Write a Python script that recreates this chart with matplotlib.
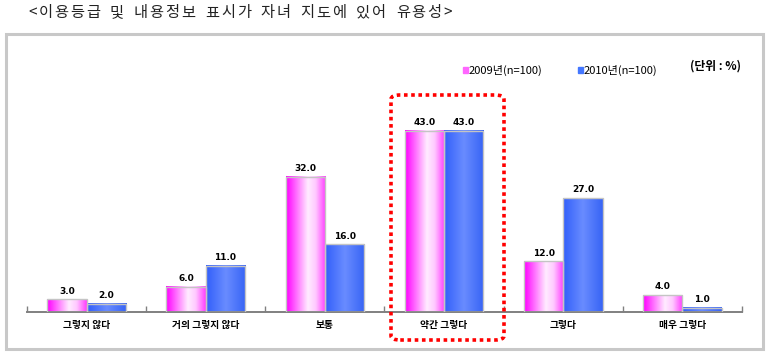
import numpy as np
import matplotlib
matplotlib.use("Agg")
import matplotlib.pyplot as plt
from matplotlib.patches import FancyBboxPatch, Rectangle

plt.rcParams['font.family'] = ['Noto Sans CJK KR', 'DejaVu Sans']

# data
categories = ["그렇지 않다", "거의 그렇지 않다", "보통", "약간 그렇다", "그렇다", "매우 그렇다"]
values_2009 = [3.0, 6.0, 32.0, 43.0, 12.0, 4.0]
values_2010 = [2.0, 11.0, 16.0, 43.0, 27.0, 1.0]
series_labels = ["2009년(n=100)", "2010년(n=100)"]
title = "<이용등급 및 내용정보 표시가 자녀 지도에 있어 유용성>"
unit_label = "(단위 : %)"

W, H = 772, 354
fig = plt.figure(figsize=(W / 100, H / 100), dpi=100)


def fx(px):
    return px / W


def fy(py):
    return 1 - py / H


# outer light gray frame
fig.patches.append(Rectangle((fx(6), fy(349)), fx(763) - fx(6), fy(34) - fy(349),
                             transform=fig.transFigure, fill=False,
                             edgecolor="#c8c8c8", linewidth=2.2, zorder=0))

ax = fig.add_axes([fx(27), fy(312), fx(742) - fx(27), fy(101) - fy(312)])
ax.set_xlim(-0.5, len(categories) - 0.5)
ax.set_ylim(0, 50)
for s in ["top", "right", "left"]:
    ax.spines[s].set_visible(False)
ax.spines["bottom"].set_color("#808080")
ax.spines["bottom"].set_linewidth(1.4)
ax.set_yticks([])
ax.set_xticks(np.arange(len(categories) + 1) - 0.5)
ax.set_xticklabels([])
ax.tick_params(axis="x", direction="in", length=4, color="#808080", width=1)


def gradient(stops):
    xs = np.linspace(0, 1, 64)
    pos = [p for p, _ in stops]
    cols = np.array([c for _, c in stops], dtype=float) / 255
    img = np.stack([np.interp(xs, pos, cols[:, k]) for k in range(3)], axis=-1)
    return img[np.newaxis, :, :]


pink = gradient([(0, (255, 0, 255)), (0.55, (255, 235, 255)), (0.75, (255, 200, 255)), (1, (255, 60, 255))])
blue = gradient([(0, (50, 95, 250)), (0.5, (105, 140, 255)), (1, (55, 100, 245))])

x = np.arange(len(categories))
w = 0.33
bars1 = ax.bar(x - w / 2, values_2009, w, color="none", edgecolor="#c4c4c4", linewidth=1, zorder=3)
bars2 = ax.bar(x + w / 2, values_2010, w, color="none", edgecolor="#c4c4c4", linewidth=1, zorder=3)

for bars, img in [(bars1, pink), (bars2, blue)]:
    for b in bars:
        x0, bw, h = b.get_x(), b.get_width(), b.get_height()
        ax.imshow(img, extent=(x0, x0 + bw, 0, h), aspect="auto", zorder=2, interpolation="bilinear")
        ax.text(x0 + bw / 2, h + 0.9, f"{h:.1f}", ha="center", va="bottom",
                fontsize=6.5, fontweight="bold", family="DejaVu Sans")
ax.set_xlim(-0.5, len(categories) - 0.5)
ax.set_ylim(0, 50)

for i, c in enumerate(categories):
    ax.text(i, -3.1, c, ha="center", va="center", fontsize=7, fontweight="bold")

# legend
for lx, lab, col in [(463, series_labels[0], "#ff66ff"), (578, series_labels[1], "#4477ff")]:
    fig.patches.append(Rectangle((fx(lx), fy(73)), fx(5), fy(0) - fy(6),
                                 transform=fig.transFigure, color=col))
    fig.text(fx(lx + 6), fy(70), lab, fontsize=8, va="center", ha="left")
fig.text(fx(690), fy(66), unit_label, fontsize=8.5, va="center", ha="left", fontweight="bold")

# title, drawn char by char so it spreads over the same width as the original
renderer = fig.canvas.get_renderer()
pieces = []
for ch in title:
    t = fig.text(0, fy(13), ch, fontsize=11, va="center", ha="left", color="#222222")
    pieces.append((t, 6 if ch == " " else t.get_window_extent(renderer).width))
gap = (452 - 28 - sum(wd for _, wd in pieces)) / (len(pieces) - 1)
cx = 28
for t, wd in pieces:
    t.set_x(fx(cx))
    cx += wd + gap

# red dotted highlight box
fig.patches.append(FancyBboxPatch((fx(391), fy(340)), fx(504) - fx(391), fy(95) - fy(340),
                                  boxstyle="round,pad=0,rounding_size=0.012",
                                  transform=fig.transFigure, fill=False,
                                  edgecolor="#ff0000", linewidth=2.6, linestyle=(0, (1, 1)), zorder=5))

fig.savefig("out.png", dpi=100)
